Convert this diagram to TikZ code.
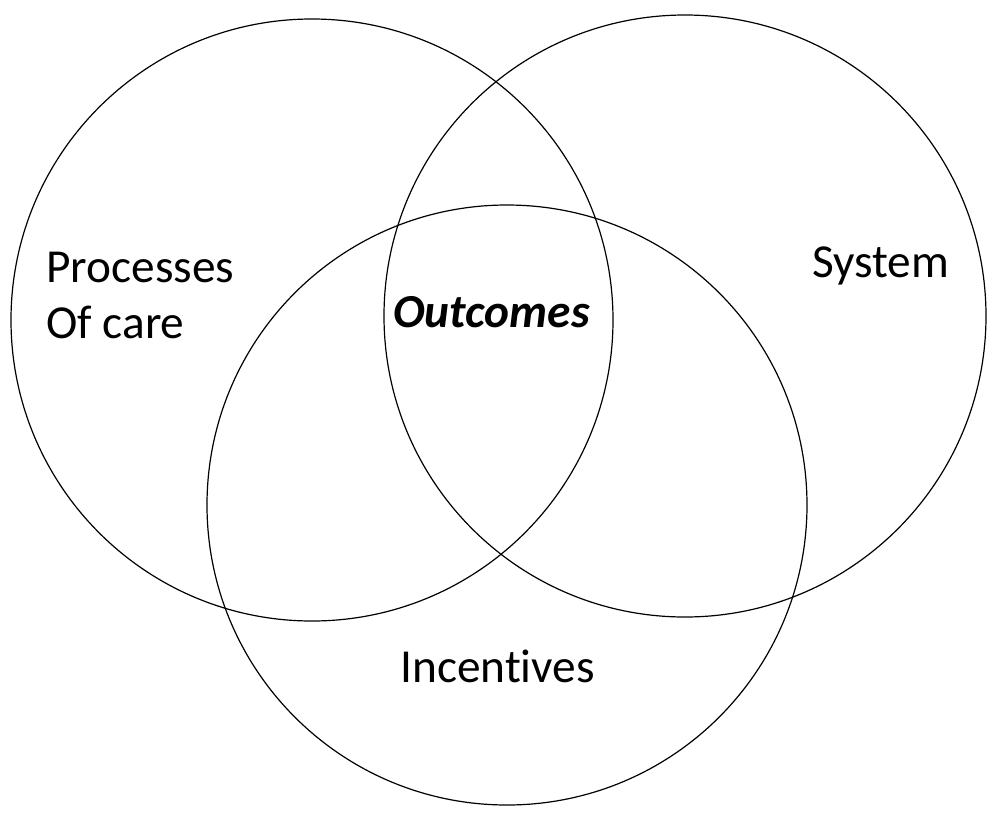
\documentclass[tikz,border=0pt]{standalone}
\usepackage{fontspec}
\setmainfont[Ligatures=NoCommon]{Carlito}
\begin{document}
\begin{tikzpicture}[x=0.75pt,y=-0.75pt,
  venn/.style={circle, draw=black, line width=0.9pt, inner sep=0pt, minimum size=451.5pt},
  lbl/.style={anchor=base west, inner sep=0pt, font=\fontsize{35.5}{42}\selectfont}]
\useasboundingbox (0,0) rectangle (990,815);
\node[venn] (care) at (312,320) {};
\node[venn] (sys) at (685,316) {};
\node[venn, minimum size=450pt] (inc) at (507,505) {};
\node[lbl] (t1) at (46,282) {Processes};
\node[lbl] (t2) at (46,338) {Of care};
\node[lbl, font=\fontsize{35.5}{42}\selectfont\bfseries\itshape] (t3) at (393,327) {Outcomes};
\node[lbl] (t4) at (812,277) {System};
\node[lbl] (t5) at (400,682) {Incentives};
\end{tikzpicture}
\end{document}
